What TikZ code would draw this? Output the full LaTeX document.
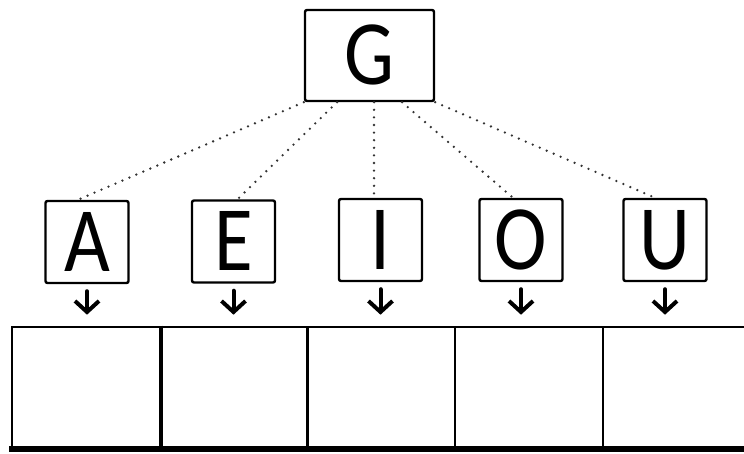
\documentclass[tikz,border=0pt]{standalone}
\usepackage{fontspec}
\setmainfont{Carlito}[FakeStretch=0.86]
\usetikzlibrary{arrows.meta}
\begin{document}
\begin{tikzpicture}[x=1pt,y=-1pt,
  letterbox/.style={draw, line width=2.4pt, rounded corners=2pt, inner sep=0pt,
    minimum width=83pt, minimum height=82pt, text height=58pt, text depth=0pt,
    font=\fontsize{92}{92}\selectfont},
  rootbox/.style={letterbox, minimum width=129pt, minimum height=91pt},
  link/.style={draw=black!80, line width=2.6pt, line cap=round, dash pattern=on 0pt off 7.6pt},
  drop/.style={line width=4pt, line cap=round, line join=round,
    -{Straight Barb[length=11pt,width=24pt,line width=4pt]}},
  cell/.style={draw, line width=2.6pt, minimum width=148pt, minimum height=121pt, inner sep=0pt}]
\useasboundingbox (0,0) rectangle (744,453);
\clip (0,0) rectangle (744,453);

% root and vowels
\node[rootbox] (G) at (369.5,55.5) {G};
\node[letterbox] (A) at (87,242) {A};
\node[letterbox] (E) at (233.5,241.5) {E};
\node[letterbox] (I) at (380.5,240) {I};
\node[letterbox] (O) at (521,240) {O};
\node[letterbox] (U) at (665,240) {U};

% row of cells
\node[cell] (c1) at (86,387.5) {};
\node[cell] (c2) at (234,387.5) {};
\node[cell] (c3) at (381,387.5) {};
\node[cell] (c4) at (529,387.5) {};
\node[cell] (c5) at (677,387.5) {};
\draw[line width=4pt] (c1.north east) -- (c1.south east);
\draw[line width=6pt] ([xshift=-1.3pt]c1.south west) -- (c5.south east);

% dotted links from G
\draw[link] (G.south west) -- ([xshift=-9pt]A.north);
\draw[link] ([xshift=-32.5pt]G.south) -- ([xshift=4pt]E.north);
\draw[link] ([xshift=4.5pt]G.south) -- ([xshift=-6.5pt]I.north);
\draw[link] ([xshift=32.5pt]G.south) -- ([xshift=-8pt]O.north);
\draw[link] (G.south east) -- ([xshift=-10pt]U.north);

% arrows towards the cells
\foreach \v/\c in {A/c1,E/c2,I/c3,O/c4,U/c5}
  \draw[drop] ([yshift=-7pt]\v.south) -- ([yshift=11pt]\v.south |- \c.north);
\end{tikzpicture}
\end{document}
